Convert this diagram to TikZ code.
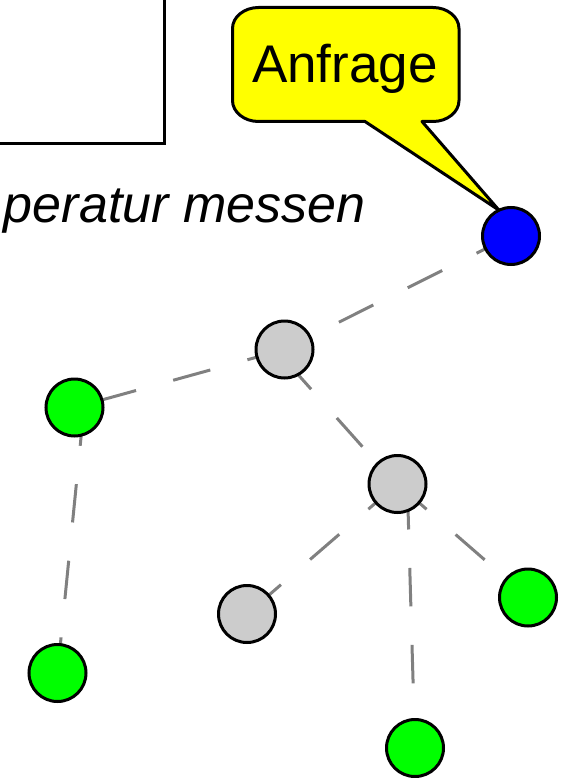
\documentclass[tikz,border=0pt]{standalone}
\usepackage{fontspec}
\setmainfont{Liberation Sans}
\usetikzlibrary{calc}
\pgfdeclarelayer{background}
\pgfsetlayers{background,main}
\definecolor{nodegray}{HTML}{CCCCCC}
\definecolor{edgegray}{HTML}{808080}
\definecolor{nodegreen}{HTML}{00FF00}
\definecolor{nodeblue}{HTML}{0000FF}
\definecolor{bubbleyellow}{HTML}{FFFF00}
\tikzset{
  dot/.style={circle, draw=black, line width=3pt, minimum size=57pt, inner sep=0pt, outer sep=0pt},
  relay/.style={dot, fill=nodegray},
  leaf/.style={dot, fill=nodegreen},
  sink/.style={dot, fill=nodeblue},
  link/.style={draw=edgegray, line width=3pt, dash pattern=on 38.5pt off 38.5pt},
  bubble/.style={draw=black, fill=bubbleyellow, line width=3pt, line join=round},
  frame/.style={draw=black, line width=3pt},
  label/.style={anchor=base west, inner sep=0pt, outer sep=0pt},
}
\begin{document}
\begin{tikzpicture}[x=1pt,y=1pt]
\useasboundingbox (0,0) rectangle (564,-778);
\clip (0,0) rectangle (564,-778);
% frame (partly outside the picture)
\draw[frame] (-20,20) rectangle (164,-144);
% task text
\node[label, font=\fontsize{52}{60}\selectfont\itshape] (task) at (4,-222) {peratur messen};
% nodes
\node[sink]  (q)  at (511,-236) {};
\node[relay] (r1) at (284.5,-349.5) {};
\node[leaf]  (g1) at (74.5,-407.5) {};
\node[relay] (r2) at (397.5,-484) {};
\node[relay] (r3) at (247,-614) {};
\node[leaf]  (g2) at (528,-597.5) {};
\node[leaf]  (g3) at (57.5,-673) {};
\node[leaf]  (g4) at (415,-748) {};
% request label
\node[label, font=\fontsize{53}{60}\selectfont] (anfrage) at (252,-83) {Anfrage};
\begin{pgfonlayer}{background}
\draw[link] (q.center) -- (r1.center);
\draw[link] (r1.center) -- (g1.center);
\draw[link] ($(r1.center)+(1,-11)$) -- ($(r2.center)+(0,-2)$);
\draw[link] ($(g1.center)+(9.5,0)$) -- (g3.center);
\draw[link] (r2.center) -- (r3.center);
\draw[link] ($(r2.center)+(10,-7)$) -- (g4.center);
\draw[link] (r2.center) -- (g2.center);
\path[bubble] (365,-121.5) -- (258.5,-121.5)
  arc[start angle=270,end angle=180,x radius=26,y radius=21] -- (232.5,-28.5)
  arc[start angle=180,end angle=90,x radius=26,y radius=21] -- (433,-7.5)
  arc[start angle=90,end angle=0,x radius=26,y radius=21] -- (459,-100.5)
  arc[start angle=0,end angle=-90,x radius=26,y radius=21] -- (422,-121.5)
  -- (q.115) -- cycle;
\end{pgfonlayer}
\end{tikzpicture}
\end{document}
